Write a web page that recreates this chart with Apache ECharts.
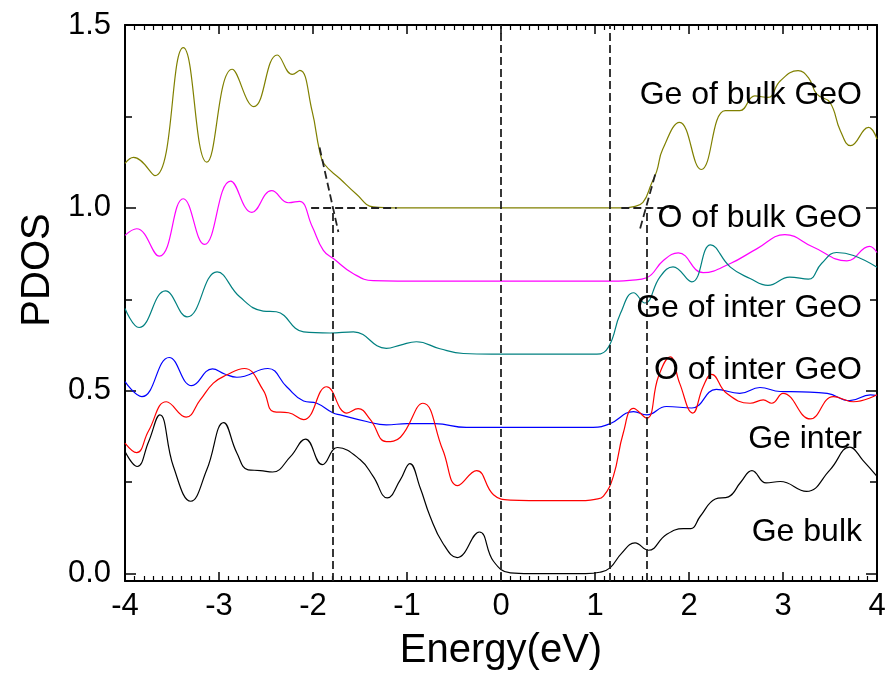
<!DOCTYPE html>
<html><head><meta charset="utf-8">
<script src="https://cdn.jsdelivr.net/npm/echarts@6/dist/echarts.min.js"></script>
<style>html,body{margin:0;padding:0;background:#fff}#c{width:888px;height:673px}</style>
</head><body><div id="c"></div>
<script>
// ---------------- data ----------------
const seriesNames = ['Ge of bulk GeO', 'O of bulk GeO', 'Ge of inter GeO', 'O of inter GeO', 'Ge inter', 'Ge bulk'];

const geOfBulkGeO = [[-4,1.122],[-3.91,1.138],[-3.68,1.088],[-3.38,1.438],[-3.13,1.125],[-2.86,1.379],[-2.63,1.277],[-2.38,1.418],[-2.22,1.365],[-2.14,1.376],[-2.01,1.265],[-1.93,1.156],[-1.88,1.12],[-1.71,1.079],[-1.54,1.038],[-1.36,1.003],[-1.1,1.0],[-0.5,1.0],[0.3,1.0],[0.9,1.0],[1.3,1.0],[1.40,1.003],[1.51,1.015],[1.60,1.066],[1.656,1.10],[1.72,1.16],[1.90,1.234],[2.13,1.105],[2.385,1.266],[2.54,1.266],[2.70,1.306],[2.84,1.302],[2.97,1.347],[3.16,1.375],[3.27,1.356],[3.36,1.311],[3.50,1.288],[3.61,1.211],[3.72,1.170],[3.91,1.22],[4.0,1.188]];

const oOfBulkGeO = [[-4,0.925],[-3.876,0.943],[-3.635,0.868],[-3.38,1.025],[-3.156,0.900],[-2.876,1.073],[-2.65,0.988],[-2.44,1.047],[-2.26,1.014],[-2.145,1.018],[-2.01,0.95],[-1.89,0.884],[-1.78,0.861],[-1.57,0.820],[-1.36,0.801],[-1.1,0.8],[-0.5,0.8],[0.3,0.8],[0.9,0.8],[1.25,0.8],[1.37,0.802],[1.55,0.809],[1.73,0.857],[1.886,0.877],[2.15,0.823],[2.44,0.848],[2.72,0.888],[3.02,0.927],[3.32,0.893],[3.68,0.855],[3.92,0.895],[4.0,0.878]];

const geOfInterGeO = [[-4,0.725],[-3.85,0.673],[-3.57,0.773],[-3.34,0.702],[-3.02,0.825],[-2.78,0.757],[-2.53,0.718],[-2.39,0.716],[-2.10,0.661],[-1.82,0.658],[-1.57,0.661],[-1.22,0.616],[-1.07,0.625],[-0.90,0.634],[-0.65,0.615],[-0.40,0.602],[-0.1,0.6],[0.3,0.6],[0.7,0.6],[1.02,0.6],[1.145,0.620],[1.27,0.711],[1.41,0.768],[1.53,0.740],[1.69,0.811],[1.83,0.839],[2.03,0.798],[2.23,0.899],[2.44,0.838],[2.65,0.807],[2.84,0.788],[3.07,0.811],[3.27,0.805],[3.41,0.848],[3.57,0.878],[3.75,0.870],[4.0,0.838]];

const oOfInterGeO = [[-4,0.525],[-3.82,0.484],[-3.53,0.591],[-3.29,0.514],[-3.07,0.560],[-2.94,0.546],[-2.81,0.537],[-2.48,0.561],[-2.28,0.511],[-2.10,0.472],[-1.96,0.466],[-1.79,0.440],[-1.71,0.434],[-1.43,0.416],[-1.22,0.407],[-1.0,0.41],[-0.7,0.41],[-0.37,0.40],[-0.1,0.4],[0.3,0.4],[0.7,0.4],[0.98,0.4],[1.16,0.41],[1.41,0.443],[1.55,0.434],[1.76,0.457],[2.03,0.453],[2.29,0.504],[2.54,0.493],[2.755,0.509],[2.97,0.498],[3.2,0.497],[3.47,0.493],[3.71,0.473],[3.93,0.489],[4.0,0.487]];

const geInter = [[-4,0.357],[-3.876,0.331],[-3.75,0.39],[-3.56,0.470],[-3.35,0.428],[-3.2,0.475],[-3.06,0.521],[-2.92,0.543],[-2.73,0.561],[-2.53,0.502],[-2.42,0.443],[-2.26,0.440],[-2.10,0.421],[-1.855,0.511],[-1.64,0.439],[-1.52,0.451],[-1.39,0.421],[-1.22,0.361],[-1.07,0.373],[-0.83,0.466],[-0.62,0.339],[-0.46,0.241],[-0.26,0.282],[-0.08,0.216],[0.10,0.201],[0.3,0.2],[0.6,0.2],[0.9,0.2],[1.0,0.203],[1.09,0.212],[1.195,0.266],[1.30,0.384],[1.41,0.452],[1.55,0.425],[1.675,0.539],[1.80,0.593],[1.90,0.521],[2.04,0.439],[2.15,0.511],[2.24,0.545],[2.40,0.493],[2.65,0.466],[2.79,0.475],[2.88,0.466],[3.00,0.493],[3.29,0.423],[3.535,0.484],[3.75,0.470],[4.0,0.489]];

const geBulk = [[-4,0.334],[-3.87,0.293],[-3.75,0.36],[-3.63,0.434],[-3.485,0.293],[-3.30,0.198],[-3.13,0.284],[-2.95,0.413],[-2.81,0.330],[-2.69,0.284],[-2.56,0.282],[-2.43,0.278],[-2.24,0.320],[-2.08,0.368],[-1.90,0.298],[-1.74,0.345],[-1.50,0.312],[-1.36,0.266],[-1.21,0.207],[-1.07,0.257],[-0.97,0.301],[-0.86,0.235],[-0.755,0.157],[-0.62,0.084],[-0.465,0.044],[-0.23,0.114],[-0.08,0.034],[0.1,0.002],[0.3,0],[0.6,0],[0.9,0],[1.05,0.004],[1.16,0.016],[1.28,0.055],[1.426,0.084],[1.567,0.064],[1.76,0.107],[1.94,0.123],[2.02,0.123],[2.12,0.157],[2.28,0.204],[2.42,0.210],[2.55,0.25],[2.67,0.282],[2.82,0.248],[2.97,0.252],[3.25,0.225],[3.50,0.284],[3.71,0.346],[3.85,0.31],[4.0,0.266]];

// dashed guide segments, in data coordinates: [x1,y1,x2,y2]
const guideLines = [[0,-0.02,0,1.5],[1.16,-0.02,1.16,1.5],[-1.79,-0.02,-1.79,1.0],[1.55,-0.02,1.55,1.0],[-2.02,1.0,-1.11,1.0],[1.28,1.0,1.87,1.0],[-1.93,1.165,-1.73,0.934],[1.64,1.091,1.47,0.934]];

const xRange = [-4, 4];
const yRange = [-0.02, 1.5];
const yMajorTicks = [0, 0.5, 1.0, 1.5];
const yMinorTicks = [0.25, 0.75, 1.25];
const xAxisTitle = 'Energy(eV)';
const yAxisTitle = 'PDOS';

// ---------------- layout / style ----------------
const FONT = '"Liberation Sans", Arial, Helvetica, sans-serif';
const colors = ['#808000', '#ff00ff', '#008080', '#0000ff', '#ff0000', '#000000'];
const seriesData = [geOfBulkGeO, oOfBulkGeO, geOfInterGeO, oOfInterGeO, geInter, geBulk];
const labelY = [95, 218, 308, 370, 439, 532];
const labelRight = 862;

const axisLineStyle = {color: '#000', width: 2};
function xAxisCfg(pos, showLabel) {
  return {
    type: 'value', min: xRange[0], max: xRange[1], interval: 1, position: pos,
    axisLine: {show: true, onZero: false, lineStyle: axisLineStyle},
    axisTick: {show: true, inside: true, length: 9, lineStyle: {color: '#000', width: 1.5}},
    minorTick: {show: true, splitNumber: 10, length: 5, lineStyle: {color: '#000', width: 1.2}},
    axisLabel: {show: showLabel, fontSize: 31, color: '#000', margin: 10, fontFamily: FONT},
    splitLine: {show: false}, minorSplitLine: {show: false},
    name: showLabel ? xAxisTitle : '', nameLocation: 'middle', nameGap: 50,
    nameTextStyle: {fontSize: 40, color: '#000', fontFamily: FONT}
  };
}
function yAxisCfg(pos, ticks, len, showLine, showLabel) {
  return {
    type: 'value', min: yRange[0], max: yRange[1], position: pos,
    axisLine: {show: showLine, onZero: false, lineStyle: axisLineStyle},
    axisTick: {show: true, inside: true, length: len, customValues: ticks, lineStyle: {color: '#000', width: 1.5}},
    axisLabel: {show: showLabel, customValues: ticks, formatter: v => v.toFixed(1), fontSize: 31, color: '#000', margin: 14, fontFamily: FONT},
    splitLine: {show: false}
  };
}

const series = seriesData.map((d, i) => ({
  name: seriesNames[i], type: 'line', data: d, xAxisIndex: 0, yAxisIndex: 0,
  smooth: 0.45, showSymbol: false, symbol: 'none', clip: true,
  lineStyle: {color: colors[i], width: 1.2}, z: 3
}));
series.push({
  type: 'line', data: [], xAxisIndex: 0, yAxisIndex: 0, silent: true,
  markLine: {
    silent: true, symbol: 'none', animation: false,
    label: {show: false},
    lineStyle: {color: '#222', width: 1.8, type: [8, 4]},
    data: guideLines.map(g => [{coord: [g[0], g[1]]}, {coord: [g[2], g[3]]}])
  }, z: 2
});

const graphics = seriesNames.map((t, i) => ({
  type: 'text', x: labelRight, y: labelY[i], z: 10,
  style: {text: t, fill: '#000', font: '32px ' + FONT, align: 'right', verticalAlign: 'middle', textAlign: 'right', textVerticalAlign: 'middle'}
}));
graphics.push({
  type: 'text', x: 38, y: 270, rotation: Math.PI / 2, z: 10,
  style: {text: yAxisTitle, fill: '#000', font: '40px ' + FONT, align: 'center', verticalAlign: 'middle', textAlign: 'center', textVerticalAlign: 'middle'}
});

const chart = echarts.init(document.getElementById('c'), null, {renderer: 'canvas'});
chart.setOption({
  animation: false,
  backgroundColor: '#fff',
  grid: {left: 125, right: 11, top: 25, bottom: 92, containLabel: false, outerBoundsMode: 'none'},
  xAxis: [xAxisCfg('bottom', true), xAxisCfg('top', false)],
  yAxis: [
    yAxisCfg('left', yMajorTicks, 11, true, true),
    yAxisCfg('left', yMinorTicks, 7, false, false),
    yAxisCfg('right', yMajorTicks, 11, true, false),
    yAxisCfg('right', yMinorTicks, 7, false, false)
  ],
  series: series,
  graphic: graphics
});
</script></body></html>
